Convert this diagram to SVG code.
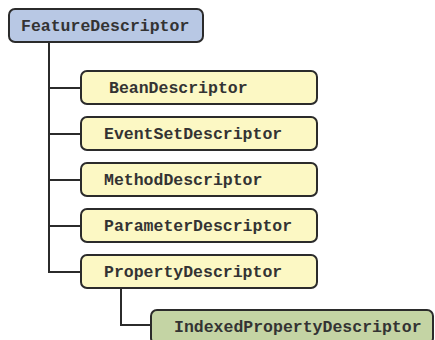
<svg xmlns="http://www.w3.org/2000/svg" width="435" height="340" viewBox="0 0 435 340">
<style>
.box{stroke:#2b2b2b;stroke-width:2}
.blue{fill:#b8c8e4}
.yellow{fill:#fcf8c4}
.green{fill:#c4d4a4}
.t{font-family:"Liberation Mono","Courier New",monospace;font-weight:bold;font-size:16.5px;fill:#333}
.c{fill:none;stroke:#2b2b2b;stroke-width:2}
</style>
<rect width="435" height="340" fill="#fff"/>
<g id="connectors">
<path class="c" d="M49,42 V272 H81"/>
<path class="c" d="M49,88 H81 M49,134 H81 M49,180 H81 M49,226 H81"/>
<path class="c" d="M121,288 V325 H151"/>
</g>
<g id="FeatureDescriptor"><rect class="box blue" x="9" y="9" width="194" height="33" rx="6"/><text class="t" x="21" y="31">FeatureDescriptor</text></g>
<g id="BeanDescriptor"><rect class="box yellow" x="81" y="71" width="236" height="33" rx="6"/><text class="t" x="109" y="93">BeanDescriptor</text></g>
<g id="EventSetDescriptor"><rect class="box yellow" x="81" y="117" width="236" height="33" rx="6"/><text class="t" x="104" y="139">EventSetDescriptor</text></g>
<g id="MethodDescriptor"><rect class="box yellow" x="81" y="163" width="236" height="33" rx="6"/><text class="t" x="104" y="185">MethodDescriptor</text></g>
<g id="ParameterDescriptor"><rect class="box yellow" x="81" y="209" width="236" height="33" rx="6"/><text class="t" x="104" y="231">ParameterDescriptor</text></g>
<g id="PropertyDescriptor"><rect class="box yellow" x="81" y="255" width="236" height="33" rx="6"/><text class="t" x="104" y="277">PropertyDescriptor</text></g>
<g id="IndexedPropertyDescriptor"><rect class="box green" x="151" y="310" width="282" height="34" rx="6"/><text class="t" x="174" y="332">IndexedPropertyDescriptor</text></g>
</svg>
